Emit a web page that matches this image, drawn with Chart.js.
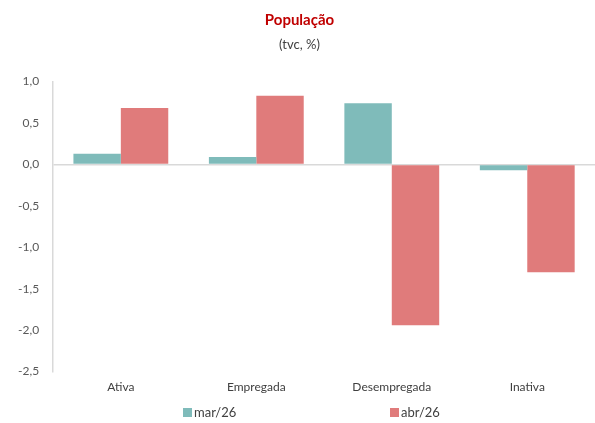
<!DOCTYPE html>
<html>
<head>
<meta charset="utf-8">
<script src="https://cdn.jsdelivr.net/npm/chart.js@4/dist/chart.umd.min.js"></script>
<style>
  html, body { margin: 0; padding: 0; background: #fff; }
  #wrap { width: 595px; height: 423px; }
</style>
</head>
<body>
<div id="wrap"><canvas id="myChart" width="595" height="423"></canvas></div>
<script>
const categories = ['Ativa', 'Empregada', 'Desempregada', 'Inativa'];
const marValues = [0.13, 0.09, 0.74, -0.07];
const abrValues = [0.68, 0.83, -1.94, -1.30];
const seriesLabels = ['mar/26', 'abr/26'];
const yTicks = [1.0, 0.5, 0.0, -0.5, -1.0, -1.5, -2.0, -2.5];

const fontFamily = 'Lato, "Open Sans", sans-serif';

// legend drawn by hand so the two items can sit far apart like the original
const wideLegend = {
    id: 'wideLegend',
    afterDraw(chart) {
        const c = chart.ctx;
        const y = chart.height - 10;
        const xs = [183, 390];
        c.save();
        c.font = '13px ' + fontFamily;
        c.textBaseline = 'middle';
        chart.data.datasets.forEach((ds, i) => {
            c.fillStyle = ds.backgroundColor;
            c.fillRect(xs[i], y - 5, 9, 9);
            c.fillStyle = '#404040';
            c.fillText(ds.label, xs[i] + 11, y);
        });
        c.restore();
    }
};

const ctx = document.getElementById('myChart').getContext('2d');
const myChart = new Chart(ctx, {
    type: 'bar',
    data: {
        labels: categories,
        datasets: [{
            label: seriesLabels[0],
            data: marValues,
            backgroundColor: '#7fbbba',
            borderWidth: 0
        }, {
            label: seriesLabels[1],
            data: abrValues,
            backgroundColor: '#e07b7b',
            borderWidth: 0
        }]
    },
    plugins: [wideLegend],
    options: {
        responsive: false,
        animation: false,
        layout: { padding: { left: 4, right: 0, top: 8, bottom: 29 } },
        datasets: {
            bar: { categoryPercentage: 0.7, barPercentage: 1.0 }
        },
        plugins: {
            title: {
                display: true,
                text: 'População',
                color: '#c00000',
                font: { family: fontFamily, size: 15, weight: 'bold' },
                padding: { top: 3, bottom: 8 }
            },
            subtitle: {
                display: true,
                text: '(tvc, %)',
                color: '#404040',
                font: { family: fontFamily, size: 13 },
                padding: { bottom: 29 }
            },
            legend: { display: false },
            tooltip: { enabled: false }
        },
        scales: {
            x: {
                grid: { display: false },
                border: { display: false },
                ticks: {
                    color: '#404040',
                    font: { family: fontFamily, size: 12 },
                    padding: 0
                }
            },
            y: {
                min: -2.5,
                max: 1.0,
                afterBuildTicks: (axis) => {
                    axis.ticks = yTicks.map(v => ({ value: v }));
                },
                grid: {
                    drawTicks: false,
                    color: (c) => c.tick && c.tick.value === 0 ? '#d9d9d9' : 'transparent',
                    lineWidth: 1.5
                },
                border: { display: true, color: '#d9d9d9', width: 1.5 },
                ticks: {
                    color: '#595959',
                    font: { family: fontFamily, size: 12 },
                    padding: 14,
                    callback: (v) => Number(v).toFixed(1).replace('.', ',')
                }
            }
        }
    }
});
</script>
</body>
</html>
